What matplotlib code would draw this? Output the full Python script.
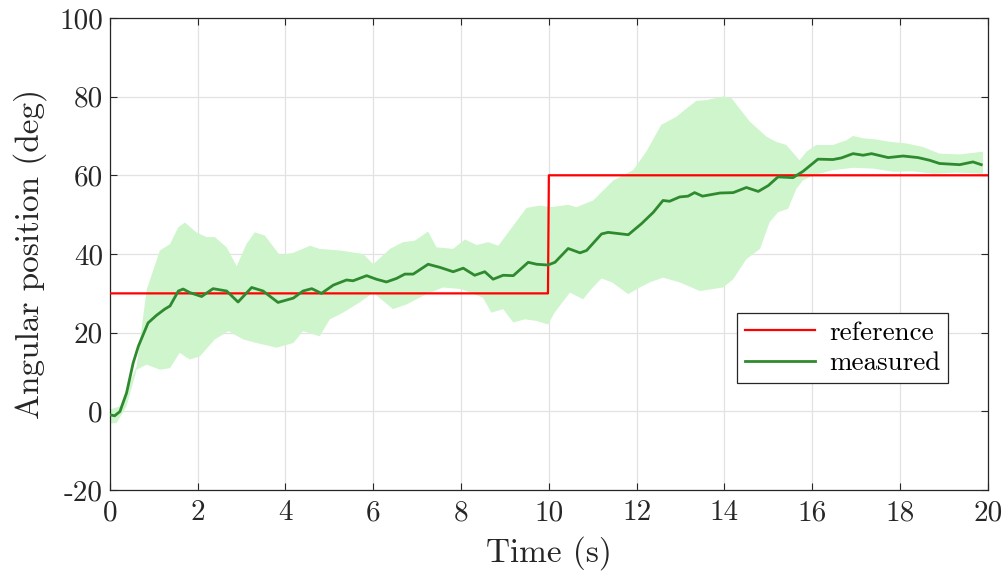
import matplotlib
matplotlib.use('Agg')
import matplotlib.pyplot as plt
import numpy as np

plt.rcParams['font.family'] = 'cmr10'
plt.rcParams['axes.unicode_minus'] = False
plt.rcParams['mathtext.fontset'] = 'cm'

# reference step
t_ref = [0, 9.98, 10.0, 20]
y_ref = [30, 30, 60, 60]

# measured mean
t_meas = [0, 0.11, 0.23, 0.38, 0.53, 0.65, 0.87, 1.06, 1.25, 1.37, 1.56, 1.67, 1.82,
          2.09, 2.35, 2.66, 2.92, 3.23, 3.49, 3.83, 4.18, 4.4, 4.6, 4.82, 5.09, 5.39,
          5.54, 5.85, 6.07, 6.3, 6.53, 6.72, 6.91, 7.25, 7.52, 7.82, 8.05, 8.31, 8.54,
          8.73, 8.96, 9.19, 9.53, 9.72, 9.98, 10.14, 10.44, 10.71, 10.86, 11.2, 11.35,
          11.81, 12.11, 12.38, 12.6, 12.75, 12.98, 13.17, 13.32, 13.5, 13.9, 14.2,
          14.5, 14.77, 15.0, 15.22, 15.56, 15.79, 16.13, 16.47, 16.66, 16.93, 17.16,
          17.35, 17.73, 18.07, 18.41, 18.68, 18.9, 19.36, 19.66, 19.85]
meas = [-0.85, -1.1, 0, 4.7, 12.3, 16.6, 22.5, 24.4, 26, 26.8, 30.6, 31.1, 30.2,
        29.2, 31.2, 30.6, 27.8, 31.5, 30.6, 27.7, 28.8, 30.6, 31.2, 30, 32.1, 33.4,
        33.2, 34.5, 33.6, 32.9, 33.8, 34.9, 34.9, 37.4, 36.6, 35.5, 36.4, 34.6, 35.5,
        33.6, 34.6, 34.5, 37.9, 37.4, 37.2, 37.9, 41.4, 40.3, 40.9, 45.1, 45.5,
        44.9, 47.7, 50.6, 53.6, 53.4, 54.5, 54.7, 55.6, 54.7, 55.5, 55.6,
        56.9, 55.9, 57.4, 59.6, 59.4, 61, 64.1, 64, 64.4, 65.5, 65.1,
        65.5, 64.5, 64.9, 64.5, 63.8, 63, 62.7, 63.4, 62.7]

# spread band, upper edge
t_hi = [0, 0.23, 0.61, 0.84, 1.14, 1.37, 1.56, 1.71, 1.97, 2.2, 2.39, 2.66, 2.89,
        3.11, 3.3, 3.53, 3.87, 4.18, 4.56, 4.78, 5.24, 5.77, 6.0, 6.38, 6.68, 6.95,
        7.25, 7.44, 7.82, 8.09, 8.35, 8.62, 8.85, 9.19, 9.49, 9.79, 10.04, 10.44,
        10.63, 11.01, 11.47, 11.92, 12.22, 12.56, 12.91, 13.14, 13.36, 13.59, 13.97,
        14.16, 14.58, 14.96, 15.18, 15.41, 15.71, 15.87, 16.09, 16.47, 16.78, 16.93,
        17.16, 17.46, 17.77, 18.14, 18.52, 18.9, 19.36, 19.89]
band_hi = [0.5, 1.3, 11.5, 31, 40.9, 42.5, 46.8, 48, 45.5, 44.3, 44.3, 41.7, 36.9,
           42.5, 45.5, 44.7, 39.7, 40.3, 42.1, 41.3, 40.9, 40, 37.4, 41.3, 43, 43.4,
           45.7, 41.7, 41.3, 43.7, 42.3, 43, 42.1, 47.2, 51.7, 52.3, 51.9, 52.5,
           51.9, 53.6, 58.7, 61.3, 66, 72.8, 74.9, 77, 78.9, 79.1, 80,
           79.6, 73.6, 69.8, 68.5, 67.7, 63.8, 66, 67.7, 67.7, 68.9, 70,
           69.4, 69.1, 68.5, 68.1, 67.2, 65.5, 65.3, 66]

# spread band, lower edge
t_lo = [0, 0.15, 0.38, 0.61, 0.84, 1.14, 1.37, 1.59, 1.82, 2.05, 2.39, 2.7, 3.04,
        3.34, 3.8, 4.18, 4.4, 4.78, 5.01, 5.31, 5.69, 6.0, 6.45, 6.76, 7.21, 7.59,
        8.0, 8.5, 8.69, 8.96, 9.19, 9.45, 9.72, 9.98, 10.13, 10.48, 10.78, 10.97,
        11.2, 11.44, 11.81, 12.07, 12.3, 12.6, 12.98, 13.44, 13.97, 14.2, 14.5,
        14.81, 15.03, 15.22, 15.45, 15.64, 15.79, 16.02, 16.47, 16.93, 17.39, 17.84,
        18.3, 18.77, 19.28, 19.89]
band_lo = [-3, -3, 1.3, 10.6, 11.9, 10.6, 11, 14.9, 13.2, 14, 18.3, 20.4, 18.3,
           17.4, 16.2, 17.4, 20.4, 19.1, 23.4, 25.1, 27.7, 30.2, 26, 27.2, 29.8, 31.5,
           31.1, 28.9, 25.1, 26, 22.6, 23.4, 23, 22.1, 25.1, 30.2, 28.5, 31.1,
           33.8, 32.8, 29.8, 31.5, 32.8, 34, 32.8, 30.6, 31.5, 33.6, 38.7,
           41.3, 48.1, 50.6, 51.5, 56.6, 58.7, 60, 61.3, 61.9, 61.7, 60.9,
           61, 60.4, 60.7, 60.4]

fig = plt.figure(figsize=(10.08, 5.76), dpi=100)
ax = fig.add_axes([0.109, 0.149, 0.871, 0.82])

# band polygon: upper edge forward, lower edge back
ax.fill(t_hi + t_lo[::-1], band_hi + band_lo[::-1], color='#cff5cc', lw=0, zorder=1)
ax.plot(t_ref, y_ref, color='#ff0000', lw=1.6, label='reference', zorder=3)
ax.plot(t_meas, meas, color='#2f8a2f', lw=2.0, label='measured', zorder=4)

ax.set_xlim(0, 20)
ax.set_ylim(-20, 100)
ax.set_xticks(np.arange(0, 21, 2))
ax.set_yticks(np.arange(-20, 101, 20))
ax.grid(True, color='#e2e2e2', lw=0.9)
ax.set_axisbelow(True)
ax.tick_params(direction='in', top=True, right=True, length=5, width=0.8,
               labelsize=21, colors='#262626')
ax.tick_params(axis='x', pad=7)
ax.tick_params(axis='y', pad=5)
for s in ax.spines.values():
    s.set_color('#262626')
    s.set_linewidth(0.9)

ax.set_xlabel('Time (s)', fontsize=24, color='#262626', labelpad=7)
ax.set_ylabel('Angular position (deg)', fontsize=24, color='#262626', labelpad=9)

leg = ax.legend(loc='center left', bbox_to_anchor=(0.714, 0.301), fontsize=19.5,
                fancybox=False, framealpha=1, edgecolor='#262626', borderaxespad=0,
                handlelength=2.6, borderpad=0.3, labelspacing=0.25, handletextpad=0.5)
leg.get_frame().set_linewidth(0.9)

fig.savefig('out.png', dpi=100)
